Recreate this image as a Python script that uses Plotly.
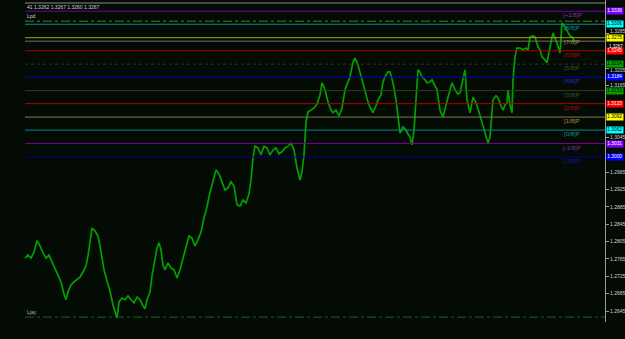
import plotly.graph_objects as go

# ---------------- data ----------------
bar_index = [0,3,6,9,12,15,18,21,24,27,
    30,33,36,39,41,43,46,49,52,55,
    58,61,63,65,67,70,73,75,77,79,
    82,85,88,90,92,94,97,100,103,106,
    109,112,115,118,120,122,125,127,130,132,
    134,136,138,140,143,146,149,152,155,158,
    161,164,167,170,173,176,179,182,185,188,
    191,194,197,200,203,206,209,212,215,218,
    221,224,226,228,230,233,236,239,242,245,
    248,251,254,257,260,263,266,269,272,275,
    277,279,281,283,286,289,292,295,297,300,
    303,306,308,311,314,317,320,323,325,328,
    330,333,336,338,341,343,345,348,351,353,
    356,358,360,363,365,368,371,373,375,378,
    381,383,385,387,389,391,393,395,397,400,
    402,405,407,410,412,415,418,421,423,425,
    427,430,433,435,438,440,442,445,448,451,
    454,457,460,463,465,468,471,473,476,478,
    480,482,483,485,487,488,490,492,495,498,
    501,503,505,508,510,513,515,517,520,522,
    525,528,530,532,535,537,540,543,545,547,
    550]
close = [1.2767,1.2774,1.2767,1.2781,1.2807,1.2795,1.2779,1.2767,1.2774,1.2758,
    1.2740,1.2726,1.2712,1.2684,1.2671,1.2689,1.2705,1.2712,1.2717,1.2723,
    1.2735,1.2749,1.2772,1.2809,1.2836,1.2830,1.2818,1.2795,1.2763,1.2740,
    1.2714,1.2691,1.2659,1.2643,1.2629,1.2666,1.2675,1.2671,1.2680,1.2671,
    1.2664,1.2677,1.2671,1.2657,1.2650,1.2671,1.2689,1.2726,1.2763,1.2790,
    1.2802,1.2786,1.2751,1.2740,1.2756,1.2744,1.2740,1.2721,1.2740,1.2767,
    1.2793,1.2818,1.2813,1.2795,1.2809,1.2827,1.2860,1.2885,1.2919,1.2947,
    1.2970,1.2961,1.2943,1.2924,1.2929,1.2943,1.2933,1.2890,1.2887,1.2901,
    1.2894,1.2915,1.2947,1.2998,1.3025,1.3021,1.3005,1.3025,1.3021,1.3005,
    1.3016,1.3021,1.3007,1.3012,1.3021,1.3025,1.3032,1.3016,1.2975,1.2947,
    1.2966,1.3005,1.3081,1.3104,1.3108,1.3113,1.3122,1.3143,1.3171,1.3155,
    1.3127,1.3108,1.3102,1.3108,1.3095,1.3113,1.3155,1.3173,1.3185,1.3219,
    1.3228,1.3212,1.3187,1.3171,1.3141,1.3127,1.3115,1.3102,1.3118,1.3132,
    1.3143,1.3173,1.3185,1.3196,1.3196,1.3171,1.3132,1.3085,1.3055,1.3069,
    1.3062,1.3053,1.3046,1.3028,1.3062,1.3132,1.3201,1.3196,1.3185,1.3178,
    1.3171,1.3173,1.3178,1.3164,1.3155,1.3108,1.3092,1.3120,1.3138,1.3155,
    1.3171,1.3155,1.3145,1.3148,1.3185,1.3201,1.3132,1.3102,1.3138,1.3125,
    1.3104,1.3079,1.3055,1.3032,1.3046,1.3132,1.3141,1.3136,1.3118,1.3108,
    1.3120,1.3125,1.3155,1.3120,1.3102,1.3178,1.3231,1.3251,1.3251,1.3247,
    1.3251,1.3247,1.3277,1.3279,1.3277,1.3254,1.3247,1.3231,1.3224,1.3217,
    1.3254,1.3286,1.3274,1.3263,1.3240,1.3309,1.3300,1.3286,1.3279,1.3277,
    1.3265]

header_text = "41 1.3262 1.3267 1.3260 1.3267"
bid_price = 1.3267

murrey_labels = ["[-2/8]P", "[-1/8]P", "[0/8]P", "[1/8]P", "[2/8]P", "[3/8]P",
                 "[4/8]P", "[5/8]P", "[6/8]P", "[7/8]P", "[8/8]P", "[+1/8]P"]
murrey_values = [1.3000, 1.3031, 1.3062, 1.3092, 1.3123, 1.3153,
                 1.3184, 1.3214, 1.3245, 1.3275, 1.3306, 1.3336]

top_gray_level = 1.3355
high_pd_level = 1.3313
low_level = 1.2631
tick_values = [1.2645, 1.2685, 1.2725, 1.2765, 1.2805, 1.2845, 1.2885, 1.2925,
               1.2965, 1.3045, 1.3165]
# ticks whose labels sit tight against level boxes: drawn nudged (value, pixel shift)
nudged_ticks = [(1.3205, -2), (1.3285, 2)]
hidden_ticks = [1.3005, 1.3085, 1.3125, 1.3245, 1.3325]   # covered by level boxes

# ---------------- styles ----------------
BG = "#040b04"
line_colors = ["#000090", "#800090", "#008888", "#807850", "#b00000", "#3a3a1a",
               "#0000c0", "#303030", "#b00000", "#b0a000", "#009090", "#7000b0"]
label_colors = ["#1818a0", "#8030a0", "#109090", "#a09040", "#a01010", "#305830",
                "#2030c0", "#305830", "#a01010", "#a09040", "#109090", "#8030b0"]
box_colors = ["#0000ff", "#8000ff", "#00ffff", "#ffff00", "#ff0000", "#00a000",
              "#0000ff", "#00a000", "#ff0000", "#ffff00", "#00ffff", "#8000ff"]
box_text = ["#ffffff", "#ffffff", "#000000", "#000000", "#ffffff", "#000000",
            "#ffffff", "#000000", "#ffffff", "#000000", "#000000", "#ffffff"]

W, H = 625, 339
X_END = 580
Y_MAX, Y_MIN = 1.33619, 1.26197
FONT = "Liberation Sans"

fig = go.Figure()
fig.add_trace(go.Scatter(x=bar_index, y=close, mode="lines",
                         line=dict(color="#00a000", width=1.7), hoverinfo="skip"))

shapes = []
x0 = bar_index[0]
shapes.append(dict(type="line", xref="x", yref="y", x0=x0, x1=X_END, y0=top_gray_level,
                   y1=top_gray_level, line=dict(color="#8a8a8a", width=1)))
shapes.append(dict(type="line", xref="x", yref="y", x0=x0, x1=X_END, y0=bid_price,
                   y1=bid_price, line=dict(color="#707070", width=1)))
for v, c in zip(murrey_values, line_colors):
    dash = "dot" if c == "#303030" else "solid"
    shapes.append(dict(type="line", xref="x", yref="y", x0=x0, x1=X_END, y0=v, y1=v,
                       line=dict(color=c, width=1, dash=dash)))
shapes.append(dict(type="line", xref="x", yref="y", x0=x0, x1=X_END, y0=high_pd_level,
                   y1=high_pd_level, line=dict(color="#b00000", width=1, dash="dot")))
shapes.append(dict(type="line", xref="x", yref="y", x0=x0, x1=X_END, y0=high_pd_level,
                   y1=high_pd_level, line=dict(color="#208020", width=1, dash="dashdot")))
shapes.append(dict(type="line", xref="x", yref="y", x0=x0, x1=X_END, y0=low_level,
                   y1=low_level, line=dict(color="#206020", width=1, dash="dashdot")))

ann = []
for lab, v, c in zip(murrey_labels, murrey_values, label_colors):
    ann.append(dict(x=547, y=v, xref="x", yref="y", text=lab, showarrow=False,
                    font=dict(size=6, color=c, family=FONT),
                    xanchor="center", yanchor="middle", yshift=-4))
for v, bc, tc in zip(murrey_values, box_colors, box_text):
    ann.append(dict(x=1, y=v, xref="paper", yref="y", text=f"{v:.4f}", showarrow=False,
                    font=dict(size=4.8, color=tc, family=FONT),
                    bgcolor=bc, xanchor="left", yanchor="middle", xshift=1,
                    borderpad=0.3))
for v, s in nudged_ticks:
    ann.append(dict(x=1, y=v, xref="paper", yref="y", text=f"{v:.4f}", showarrow=False,
                    font=dict(size=5, color="#d0d0d0", family=FONT),
                    xanchor="left", yanchor="middle", xshift=3, yshift=s))
ann.append(dict(x=1, y=bid_price, xref="paper", yref="y", text=f"{bid_price:.4f}",
                showarrow=False, font=dict(size=4.5, color="#ffffff", family=FONT),
                xanchor="left", yanchor="top", xshift=2, yshift=-1))
ann.append(dict(x=x0, y=Y_MAX, xref="x", yref="y", text=header_text, showarrow=False,
                font=dict(size=5, color="#d0d0d0", family=FONT),
                xanchor="left", yanchor="top", yshift=-2))
ann.append(dict(x=x0, y=high_pd_level, xref="x", yref="y", text="Lpd", showarrow=False,
                font=dict(size=5, color="#d0d0d0", family=FONT),
                xanchor="left", yanchor="bottom", yshift=0))
ann.append(dict(x=x0, y=low_level, xref="x", yref="y", text="Ljay", showarrow=False,
                font=dict(size=5, color="#b0b0b0", family=FONT),
                xanchor="left", yanchor="bottom", yshift=0))

all_ticks = tick_values + [v for v, _ in nudged_ticks]
fig.update_layout(
    width=W, height=H, margin=dict(l=0, r=20, t=0, b=17),
    paper_bgcolor=BG, plot_bgcolor=BG, showlegend=False,
    shapes=shapes, annotations=ann,
    xaxis=dict(range=[-25, X_END], visible=False, showgrid=False, zeroline=False),
    yaxis=dict(range=[Y_MIN, Y_MAX], side="right", showgrid=False, zeroline=False,
               tickvals=all_ticks,
               ticktext=[f"{t:.4f}" for t in tick_values] + ["" for _ in nudged_ticks],
               ticks="outside", ticklen=3, tickcolor="#9a9a9a", showline=True,
               linecolor="#9a9a9a", linewidth=1,
               tickfont=dict(size=5, color="#d0d0d0", family=FONT)),
)
fig.write_html("out.html")
